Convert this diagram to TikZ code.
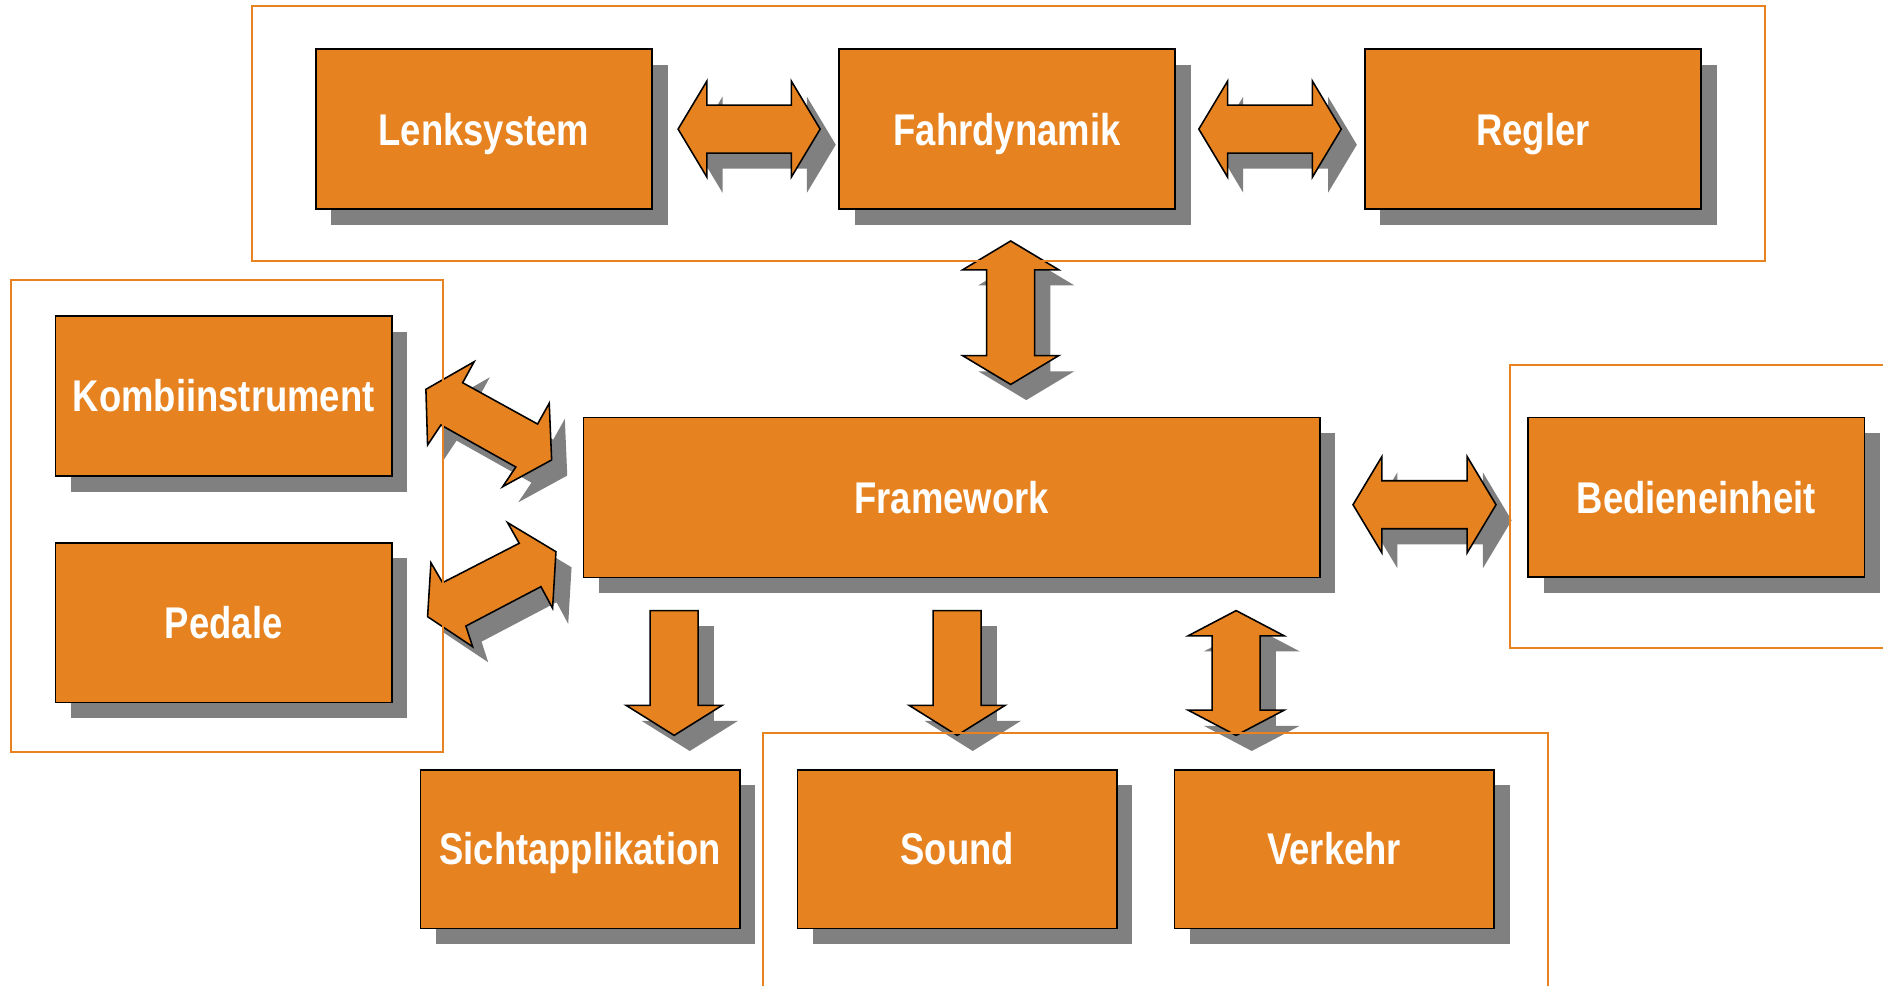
\documentclass[tikz,border=0pt]{standalone}
\usepackage{fontspec}
\newfontfamily\boxfont{Liberation Sans Bold}[FakeStretch=0.82]
\usetikzlibrary{calc,shadows}
\definecolor{boxorange}{RGB}{230,130,31}
\definecolor{shadowgray}{RGB}{128,128,128}
% block arrow outlines: horizontal double, vertical double, single down
\newcommand{\hdarrowpath}[2]{(#1) -- ($(#1)+(24,-40)$) -- ($(#1)+(24,-20)$) -- ($(#2)+(-24,-20)$) -- ($(#2)+(-24,-40)$) -- (#2) -- ($(#2)+(-24,40)$) -- ($(#2)+(-24,20)$) -- ($(#1)+(24,20)$) -- ($(#1)+(24,40)$) -- cycle}
\newcommand{\vdarrowpath}[3]{(#1) -- ($(#1)+(40,#3)$) -- ($(#1)+(20,#3)$) -- ($(#2)+(20,-#3)$) -- ($(#2)+(40,-#3)$) -- (#2) -- ($(#2)+(-40,-#3)$) -- ($(#2)+(-20,-#3)$) -- ($(#1)+(-20,#3)$) -- ($(#1)+(-40,#3)$) -- cycle}
\newcommand{\sdarrowpath}[3]{($(#1)+(-20,0)$) -- ($(#1)+(20,0)$) -- ($(#2)+(20,-#3)$) -- ($(#2)+(40,-#3)$) -- (#2) -- ($(#2)+(-40,-#3)$) -- ($(#2)+(-20,-#3)$) -- cycle}
\begin{document}
\begin{tikzpicture}[x=1pt,y=-1pt,
  blockbox/.style={draw=black, line width=1.3pt, fill=boxorange, minimum width=280pt, minimum height=133pt, inner sep=0pt,
    text=white, font=\boxfont\fontsize{37}{40}\selectfont, text height=26.5pt, text depth=0pt,
    drop shadow={shadow xshift=13pt, shadow yshift=-13pt, fill=shadowgray, draw=none, opacity=1}},
  smallbox/.style={blockbox, minimum width=266pt, minimum height=132pt},
  arrowbody/.style={draw=black, line width=1.3pt, fill=boxorange, line join=miter},
  arrowshadow/.style={fill=shadowgray, transform canvas={shift={(13,13)}}},
  grouprect/.style={draw=boxorange, line width=1.8pt}]
\useasboundingbox (0,0) rectangle (1568,821);
\fill[white] (0,0) rectangle (1568,821);
\clip (0,0) rectangle (1568,821);

%Shape: Rectangle [boxes]
\node[blockbox] (lenk) at (403,107.5) {Lenksystem};
\node[blockbox] (fahr) at (838.6,107.5) {Fahrdynamik};
\node[blockbox] (regler) at (1276.5,107.5) {Regler};
\node[blockbox] (kombi) at (186.3,329.8) {Kombiinstrument};
\node[blockbox] (pedale) at (186.3,518.5) {Pedale};
\node[blockbox, minimum width=613pt] (frame) at (792.5,414.3) {Framework};
\node[blockbox] (bedien) at (1412.4,414.1) {Bedieneinheit};
\node[smallbox] (sicht) at (483,707) {Sichtapplikation};
\node[smallbox] (sound) at (797,707) {Sound};
\node[smallbox] (verkehr) at (1111,707) {Verkehr};

%Shape: Left-Right Arrow
\coordinate (lf1) at ($(lenk.east)+(21,0)$);
\coordinate (lf2) at ($(fahr.west)+(-15,0)$);
\foreach \sty in {arrowshadow,arrowbody} \path[\sty] \hdarrowpath{lf1}{lf2};
\coordinate (fr1) at ($(fahr.east)+(19,0)$);
\coordinate (fr2) at ($(regler.west)+(-19,0)$);
\foreach \sty in {arrowshadow,arrowbody} \path[\sty] \hdarrowpath{fr1}{fr2};
\coordinate (fb1) at ($(frame.east)+(27,6)$);
\coordinate (fb2) at ($(fb1 -| bedien.west)+(-26,0)$);
\foreach \sty in {arrowshadow,arrowbody} \path[\sty] \hdarrowpath{fb1}{fb2};

%Shape: Up-Down Arrow
\coordinate (ff1) at ($(fahr.south)+(3,26)$);
\coordinate (ff2) at ($(ff1 |- frame.north)+(0,-27)$);
\foreach \sty in {arrowshadow,arrowbody} \path[\sty] \vdarrowpath{ff1}{ff2}{24};
\coordinate (fv1) at ($(verkehr.north west |- frame.south)+(52,27)$);
\coordinate (fv2) at ($(fv1 |- verkehr.north)+(0,-28)$);
\foreach \sty in {arrowshadow,arrowbody} \path[\sty] \vdarrowpath{fv1}{fv2}{21};

%Shape: Down Arrow
\coordinate (fs1) at ($(frame.south west)+(76,27)$);
\coordinate (fs2) at ($(fs1 |- sicht.north)+(0,-28)$);
\foreach \sty in {arrowshadow,arrowbody} \path[\sty] \sdarrowpath{fs1}{fs2}{25};
\coordinate (fo1) at ($(sound.north |- frame.south)+(0,27)$);
\coordinate (fo2) at ($(sound.north)+(0,-28)$);
\foreach \sty in {arrowshadow,arrowbody} \path[\sty] \sdarrowpath{fo1}{fo2}{25};

%Shape: Slanted Left-Right Arrows
\begin{scope}[shift={(kombi.east)}]
\foreach \sty in {arrowshadow,arrowbody}
  \path[\sty] (27.7,-5.6) -- (67.9,-28.6) -- (58.3,-11.1) -- (120.7,23.3) -- (130.4,6) -- (132.4,53.2) -- (91.6,75.5) -- (102.6,59.1) -- (40.2,24.1) -- (29.1,40.8) -- cycle;
\end{scope}
\begin{scope}[shift={(pedale.east)}]
\foreach \sty in {arrowshadow,arrowbody}
  \path[\sty] (29.1,-5) -- (31.9,-49.9) -- (41.6,-33.3) -- (105.4,-66.1) -- (95.7,-83.3) -- (136,-59.1) -- (133.2,-12) -- (123.5,-30) -- (61,2.8) -- (66.6,20) -- cycle;
\end{scope}

%Shape: Rectangle [groups]
\draw[grouprect] (210,5) rectangle (1470,217);
\draw[grouprect] (9.2,233.2) rectangle (368.6,626.2);
\draw[grouprect] (1257.3,303.9) rectangle (1590,539.9);
\draw[grouprect] (635.7,610.7) rectangle (1289,850);
\end{tikzpicture}
\end{document}
